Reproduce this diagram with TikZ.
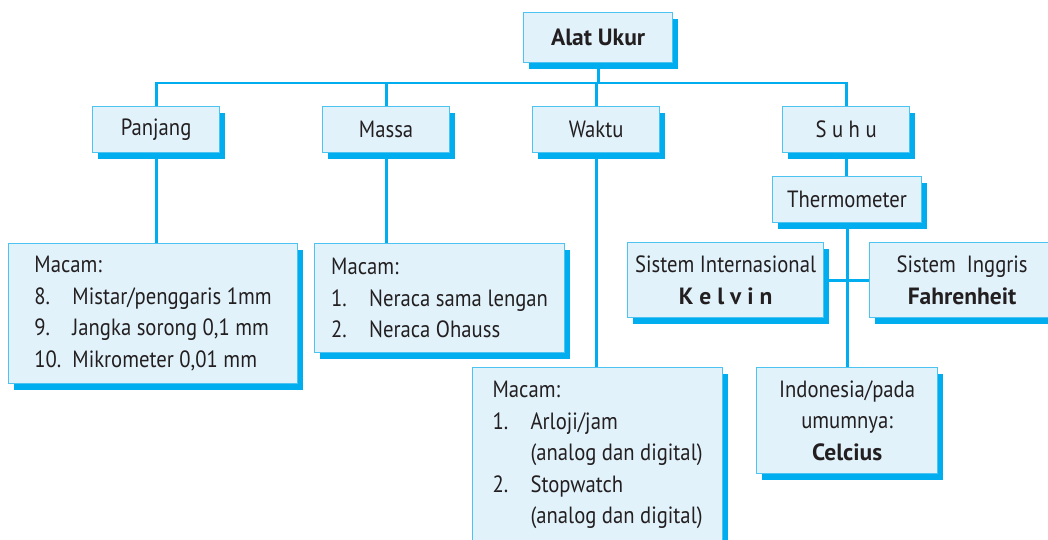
\documentclass[tikz,border=0pt]{standalone}
\usepackage{fontspec}
\setmainfont{PT Sans}[UprightFeatures={FakeStretch=0.88}, BoldFeatures={FakeStretch=1.0}]
\usepackage{tikz}
\usepackage{xcolor}
\definecolor{maincolor}{HTML}{00AEEF}
\colorlet{linecolor}{maincolor}
\colorlet{shadowcolor}{maincolor}
\definecolor{bordercolor}{HTML}{4CC3F1}
\definecolor{boxcolor}{HTML}{E1F2FB}
\definecolor{textcolor}{HTML}{231F20}
\usetikzlibrary{
  shadows,
}
\newcommand{\itm}[2]{\makebox[38pt][l]{#1}#2}

\begin{document}
\begin{tikzpicture}[x=1pt,y=-1pt]
	\tikzstyle{every node}=[font=\fontsize{23.5}{31.5}\selectfont, text=textcolor]
	\tikzstyle{box}=[draw=bordercolor, line width=1.2pt, fill=boxcolor, anchor=north west, align=center, inner sep=0pt, drop shadow={shadow xshift=5pt, shadow yshift=-6pt, fill=shadowcolor, opacity=1}]
	\tikzstyle{listbox}=[box, align=left]
	\tikzstyle{link}=[linecolor, line width=2.8pt]
	\useasboundingbox (0,0) rectangle (1048,540);
	% top
	\node (alat) [box, minimum width=149, minimum height=50] at (523,12) {\textbf{Alat Ukur}};
	% quantities
	\node (panjang) [box, minimum width=127, minimum height=46] at (92,106) {Panjang};
	\node (massa) [box, minimum width=127, minimum height=46] at (322,106) {Massa};
	\node (waktu) [box, minimum width=127, minimum height=46] at (532,106) {Waktu};
	\node (suhu) [box, minimum width=127, minimum height=46] at (782,106) {S u h u};
	\node (thermo) [box, minimum width=149, minimum height=46] at (772,176) {Thermometer};
	% lists
	\node (mpanjang) [listbox, minimum width=289, minimum height=140] at (8,243) {Macam:\\\itm{8.}{Mistar/penggaris 1mm}\\\itm{9.}{Jangka sorong 0,1 mm}\\\itm{10.}{Mikrometer 0,01 mm}};
	\node (mmassa) [listbox, minimum width=250, minimum height=109] at (314,243) {Macam:\\\itm{1.}{Neraca sama lengan}\\\itm{2.}{Neraca Ohauss}};
	\node (mwaktu) [listbox, minimum width=250, minimum height=175] at (472,367) {Macam:\\\itm{1.}{Arloji/jam}\\\itm{}{(analog dan digital)}\\\itm{2.}{Stopwatch}\\\itm{}{(analog dan digital)}};
	% scales
	\node (sisint) [box, minimum width=196, minimum height=75] at (627,242) {Sistem Internasional\\\textbf{K e l v i n}};
	\node (sising) [box, minimum width=185, minimum height=75] at (869,242) {Sistem~ Inggris\\\textbf{Fahrenheit}};
	\node (indo) [box, minimum width=181, minimum height=106] at (756,367) {Indonesia/pada\\umumnya:\\\textbf{Celcius}};
	% connectors
	\coordinate (bus) at (0,83);
	\draw [link] (alat.south) -- (alat.south |- bus);
	\draw [link] (panjang.north) |- (suhu.north |- bus) -- (suhu.north);
	\draw [link] (massa.north) -- (massa.north |- bus);
	\draw [link] (waktu.north) -- (waktu.north |- bus);
	\draw [link] (panjang.south) -- (panjang.south |- mpanjang.north);
	\draw [link] (massa.south) -- (massa.south |- mmassa.north);
	\draw [link] (waktu.south) -- (waktu.south |- mwaktu.north);
	\draw [link] (suhu.south) -- (suhu.south |- thermo.north);
	\draw [link] (thermo.south) -- (indo.north);
	\draw [link] (sisint.east) -- (sising.west);
\end{tikzpicture}
\end{document}
